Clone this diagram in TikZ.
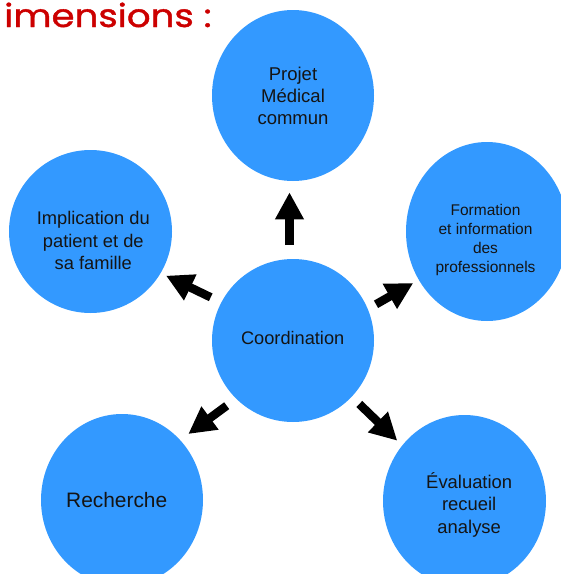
\documentclass[tikz,border=0pt]{standalone}
\usepackage{fontspec}
\setmainfont{Liberation Sans}
\newfontfamily\titlefont[FakeBold=1.2]{Poppins}
\usetikzlibrary{shapes.geometric,arrows.meta}
\definecolor{bubblefill}{RGB}{51,153,255}
\definecolor{titlered}{RGB}{204,0,0}
\definecolor{txt}{RGB}{20,20,20}
\begin{document}
\begin{tikzpicture}[x=1pt,y=-1pt,
  bubble/.style={ellipse, fill=bubblefill, draw=none, inner sep=0pt},
  lbl/.style={align=center, text=txt, inner sep=0pt},
  blockarrow/.style={line width=8.5pt, line cap=butt, black, -{Triangle[width=27pt,length=27pt]}}]
\useasboundingbox (0,0) rectangle (561,574);
\clip (0,0) rectangle (561,574);

% title
\node[anchor=base west, text=titlered, font=\titlefont\fontsize{32}{32}\selectfont, inner sep=0pt, xscale=1.16] (title) at (4,27) {imensions :};

% bubbles
\node[bubble, minimum width=162pt, minimum height=171pt] (projet) at (293,95.5) {};
\node[bubble, minimum width=162pt, minimum height=179pt] (formation) at (487,231.5) {};
\node[bubble, minimum width=163pt, minimum height=163pt] (implication) at (90.5,231.5) {};
\node[bubble, minimum width=162pt, minimum height=163pt] (coord) at (293,340.5) {};
\node[bubble, minimum width=162pt, minimum height=172pt] (recherche) at (122,500) {};
\node[bubble, minimum width=163pt, minimum height=172pt] (evaluation) at (464.5,501) {};

% texts
\node[lbl, font=\fontsize{18.5}{22}\selectfont] (projettxt) at (293,96.3) {Projet\\Médical\\commun};
\node[lbl, font=\fontsize{15.5}{18.9}\selectfont] (formationtxt) at (485.5,239.7) {Formation\\et information\\des\\professionnels};
\node[lbl, font=\fontsize{18.3}{22.2}\selectfont] (implicationtxt) at (93.3,240.5) {Implication du\\patient et de\\sa famille};
\node[lbl, font=\fontsize{18.2}{22}\selectfont] (coordtxt) at (292.7,338.3) {Coordination};
\node[lbl, font=\fontsize{20.9}{25}\selectfont] (recherchetxt) at (116.7,500.5) {Recherche};
\node[lbl, font=\fontsize{18.4}{22.2}\selectfont] (evaluationtxt) at (469.2,504.9) {Évaluation\\recueil\\analyse};

% arrow end points
\coordinate (upS) at (289.5,245);
\coordinate (upE) at (289.5,192.3);
\coordinate (luS) at (210.7,297.3);
\coordinate (luE) at (166,275.7);
\coordinate (ruS) at (376,304.3);
\coordinate (ruE) at (413.3,283);
\coordinate (ldS) at (226.7,405.7);
\coordinate (ldE) at (188.3,434);
\coordinate (rdS) at (359.3,404);
\coordinate (rdE) at (397.3,440.7);

\draw[blockarrow] (upS) -- (upE);
\draw[blockarrow] (luS) -- (luE);
\draw[blockarrow] (ruS) -- (ruE);
\draw[blockarrow] (ldS) -- (ldE);
\draw[blockarrow] (rdS) -- (rdE);
\end{tikzpicture}
\end{document}
